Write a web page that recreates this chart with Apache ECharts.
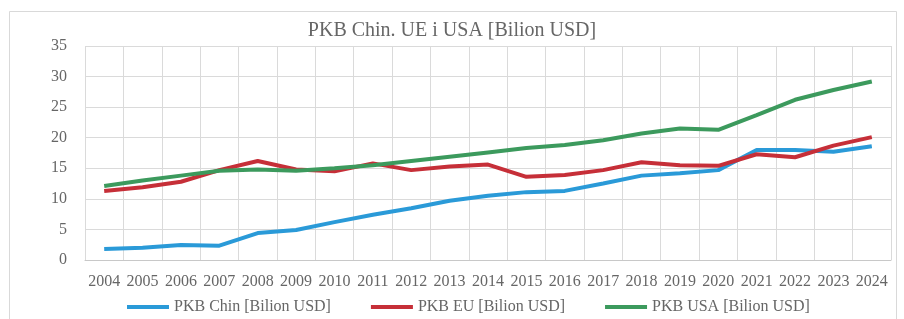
<!DOCTYPE html>
<html lang="pl">
<head>
  <meta charset="UTF-8">
  <title>PKB Chin, UE i USA</title>
  <style>
    html, body {
      height: 100%;
      width: 100%;
      margin: 0;
      padding: 0;
      background: #fff;
    }
  </style>
  <script src="https://cdn.jsdelivr.net/npm/echarts@6/dist/echarts.min.js"></script>
</head>
<body>
<div id="main" style="width: 904px; height: 319px;"></div>

<script>
  // lata
  var years = ['2004', '2005', '2006', '2007', '2008', '2009', '2010', '2011', '2012', '2013', '2014',
    '2015', '2016', '2017', '2018', '2019', '2020', '2021', '2022', '2023', '2024'];

  // PKB [Bilion USD]
  var pkbChin = [1.8, 2.0, 2.45, 2.35, 4.4, 4.9, 6.2, 7.4, 8.45, 9.7, 10.5,
    11.1, 11.3, 12.5, 13.8, 14.2, 14.7, 18.0, 18.0, 17.7, 18.6];
  var pkbEU = [11.3, 11.9, 12.8, 14.7, 16.2, 14.8, 14.5, 15.8, 14.7, 15.3, 15.6,
    13.6, 13.9, 14.7, 16.0, 15.5, 15.4, 17.3, 16.8, 18.7, 20.1];
  var pkbUSA = [12.1, 13.0, 13.8, 14.6, 14.8, 14.6, 15.0, 15.5, 16.2, 16.9, 17.6,
    18.3, 18.8, 19.6, 20.7, 21.5, 21.3, 23.7, 26.2, 27.8, 29.2];

  var chartDom = document.getElementById('main');
  var myChart = echarts.init(chartDom);
  var font = '"Liberation Serif", "Times New Roman", serif';

  function line(name, data, color) {
    return {
      name: name,
      type: 'line',
      data: data,
      symbol: 'none',
      lineStyle: { width: 4, color: color },
      itemStyle: { color: color }
    };
  }

  var option = {
    animation: false,
    backgroundColor: '#fff',
    title: {
      text: 'PKB Chin. UE i USA [Bilion USD]',
      left: 'center',
      top: 16,
      textStyle: { fontFamily: font, fontSize: 20, fontWeight: 'normal', color: '#666' }
    },
    // ramka wykresu
    graphic: [{
      type: 'rect',
      shape: { x: 9.5, y: 11.5, width: 887, height: 320 },
      style: { fill: 'none', stroke: '#d9d9d9', lineWidth: 1 },
      silent: true
    }],
    legend: {
      top: 294,
      left: 122,
      itemWidth: 42,
      itemHeight: 4,
      itemGap: 40,
      icon: 'rect',
      textStyle: { fontFamily: font, fontSize: 16, color: '#666' },
      data: ['PKB Chin [Bilion USD]', 'PKB EU [Bilion USD]', 'PKB USA [Bilion USD]']
    },
    grid: { left: 85, right: 13, top: 46, bottom: 59 },
    xAxis: {
      type: 'category',
      data: years,
      boundaryGap: true,
      axisLine: { lineStyle: { color: '#c8c8c8' } },
      axisTick: { show: false },
      splitLine: { show: true, lineStyle: { color: '#dadada' } },
      axisLabel: { interval: 0, fontFamily: font, fontSize: 16, color: '#666', margin: 14 }
    },
    yAxis: {
      type: 'value',
      min: 0,
      max: 35,
      interval: 5,
      axisLine: { show: false },
      axisTick: { show: false },
      splitLine: { lineStyle: { color: '#dadada' } },
      axisLabel: { fontFamily: font, fontSize: 16, color: '#666', margin: 18 }
    },
    series: [
      line('PKB Chin [Bilion USD]', pkbChin, '#2a9ad8'),
      line('PKB EU [Bilion USD]', pkbEU, '#c62f38'),
      line('PKB USA [Bilion USD]', pkbUSA, '#3c9a5d')
    ]
  };
  myChart.setOption(option);
</script>
</body>
</html>
